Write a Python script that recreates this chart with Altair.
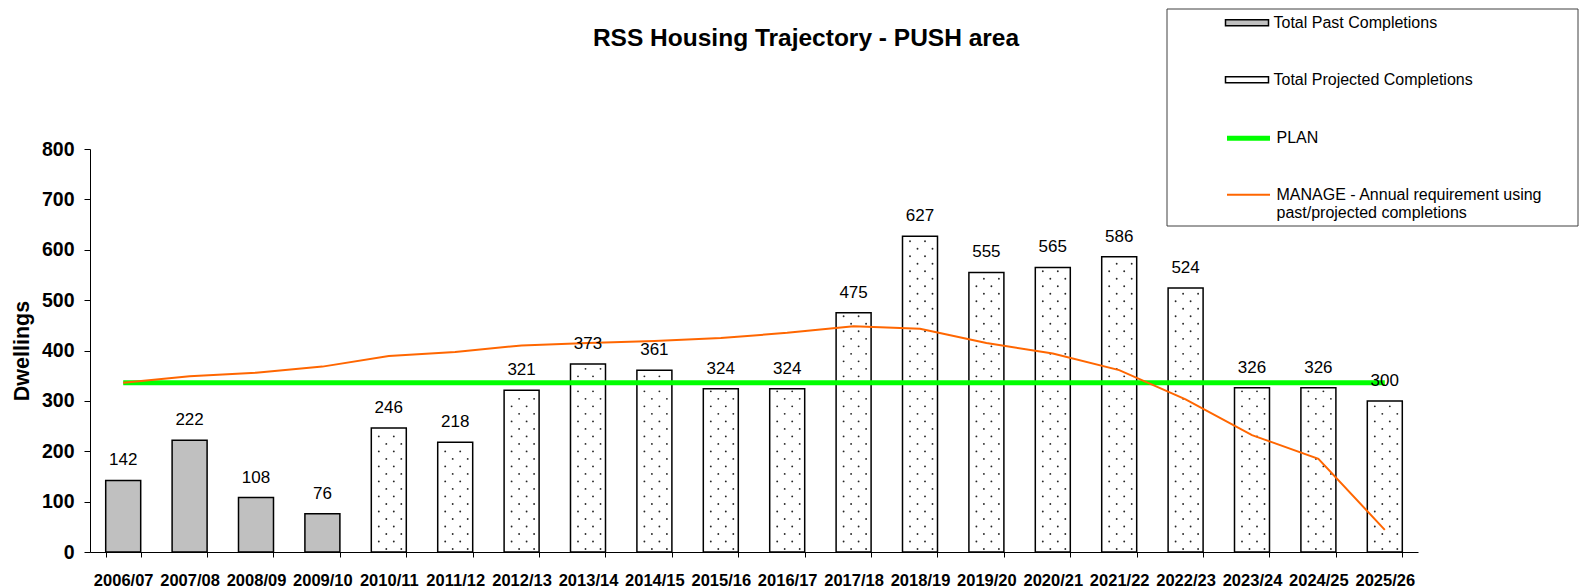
import altair as alt
import pandas as pd

# ---------------- data ----------------
years = ["2006/07", "2007/08", "2008/09", "2009/10", "2010/11", "2011/12", "2012/13",
         "2013/14", "2014/15", "2015/16", "2016/17", "2017/18", "2018/19", "2019/20",
         "2020/21", "2021/22", "2022/23", "2023/24", "2024/25", "2025/26"]
completions = [142, 222, 108, 76, 246, 218, 321, 373, 361, 324, 324, 475, 627, 555,
               565, 586, 524, 326, 326, 300]
n_past = 4
plan = [336, 336, 336, 336, 336, 336, 336, 336, 336, 336, 336, 336, 336, 336,
        336, 336, 336, 336, 336, 336]
manage = [336, 349, 356, 368, 389, 397, 410, 415, 419, 425, 435, 448, 443, 415,
          394, 361, 303, 232, 185, 44]

bar_series = ["Total Past Completions", "Total Projected Completions"]
line_series = ["PLAN", "MANAGE - Annual requirement using past/projected completions"]
chart_title = "RSS Housing Trajectory - PUSH area"

FONT = "Liberation Sans"

bars = pd.DataFrame({
    "year": years,
    "value": completions,
    "series": [bar_series[0] if i < n_past else bar_series[1] for i in range(len(years))],
})
lines = pd.DataFrame({
    "year": years + years,
    "value": plan + manage,
    "line": [line_series[0]] * len(years) + [line_series[1]] * len(years),
})

# dotted fill pattern for projected bars (rows of dots inside each bar)
DOT_STEP = 14.9
dot_rows = []
for yr, v, s in zip(bars["year"], bars["value"], bars["series"]):
    if s != bar_series[1]:
        continue
    k = 0
    while 6 + k * DOT_STEP < v - 4:
        cols = [1, 3] if k % 2 == 0 else [0, 2]
        for c in cols:
            dot_rows.append({"year": yr, "dv": 6 + k * DOT_STEP, "col": c})
        k += 1
dots = pd.DataFrame(dot_rows)
col_offsets = [-10, -2.5, 5, 12.5]

# ---------------- chart ----------------
xscale = alt.Scale(domain=years, paddingInner=0.473, paddingOuter=0.2365)
yscale = alt.Scale(domain=[0, 800], nice=False)

x_enc = alt.X("year:N", scale=xscale, sort=years,
              axis=alt.Axis(title=None, labelAngle=0, tickBand="extent",
                            labelFont=FONT, labelFontSize=16.5, labelFontWeight="bold",
                            labelColor="black", tickColor="black", tickSize=5,
                            domainColor="black", labelPadding=15))
y_enc = alt.Y("value:Q", scale=yscale,
              axis=alt.Axis(title="Dwellings", values=list(range(0, 801, 100)),
                            grid=False, labelFont=FONT, labelFontSize=19.5,
                            labelFontWeight="bold", labelColor="black",
                            tickColor="black", tickSize=6, domainColor="black",
                            labelPadding=10, titleFont=FONT, titleFontSize=21.5,
                            titleFontWeight="bold", titleColor="black",
                            titlePadding=8))

bar_layer = alt.Chart(bars).mark_bar(stroke="black", strokeWidth=1.5).encode(
    x=x_enc,
    y=y_enc,
    fill=alt.Fill("series:N", scale=alt.Scale(domain=bar_series, range=["#C0C0C0", "#FFFFFF"]),
                  legend=alt.Legend(title=None, orient="none", legendX=1134.5, legendY=-148.8,
                                    symbolType="M-1,-0.14H1V0.14H-1Z", symbolSize=1849,
                                    symbolStrokeColor="black", symbolStrokeWidth=1.5,
                                    labelFont=FONT, labelFontSize=16, labelColor="black",
                                    rowPadding=26, padding=0, labelOffset=4, labelLimit=400)),
)

dot_layers = []
for c, off in enumerate(col_offsets):
    dot_layers.append(
        alt.Chart(dots).transform_filter(alt.datum.col == c)
        .mark_circle(size=3.5, color="black", opacity=0.85, xOffset=off)
        .encode(x=alt.X("year:N", scale=xscale, sort=years), y=alt.Y("dv:Q", scale=yscale))
    )

line_legend = alt.Legend(title=None, orient="none", legendX=1134.5, legendY=-34.8,
                         symbolType="stroke", symbolSize=1849,
                         labelFont=FONT, labelFontSize=16, labelColor="black",
                         rowPadding=24, padding=0, labelOffset=4, labelLimit=400,
                         labelExpr="datum.label == 'PLAN' ? 'PLAN' : ['MANAGE - Annual requirement using', 'past/projected completions']")

line_layer = alt.Chart(lines).mark_line().encode(
    x=alt.X("year:N", scale=xscale, sort=years),
    y=alt.Y("value:Q", scale=yscale),
    stroke=alt.Stroke("line:N", scale=alt.Scale(domain=line_series, range=["#00FF00", "#FF6600"]),
                      legend=line_legend),
    strokeWidth=alt.StrokeWidth("line:N", scale=alt.Scale(domain=line_series, range=[5, 2]),
                                legend=line_legend),
)

text_layer = alt.Chart(bars).mark_text(font=FONT, fontSize=17, color="black",
                                       baseline="alphabetic", dy=-15).encode(
    x=alt.X("year:N", scale=xscale, sort=years),
    y=alt.Y("value:Q", scale=yscale),
    text=alt.Text("value:Q"),
)

legend_box = alt.Chart(alt.Data(values=[{"a": 1}])).mark_rect(
    fill="white", fillOpacity=0, stroke="#404040", strokeWidth=1
).encode(
    x=alt.value(1077), x2=alt.value(1488), y=alt.value(-140), y2=alt.value(77)
)

title_layer = alt.Chart(alt.Data(values=[{"t": chart_title}])).mark_text(
    font=FONT, fontSize=24.5, fontWeight="bold", color="black", align="center", baseline="middle"
).encode(
    x=alt.value(716), y=alt.value(-110), text="t:N"
)

chart = alt.layer(bar_layer, *dot_layers, line_layer, text_layer, legend_box, title_layer).properties(
    width=1328,
    height=403,
    autosize=alt.AutoSizeParams(type="none"),
    padding={"left": 82, "top": 141, "right": 161, "bottom": 40},
).configure(background="white").configure_view(strokeWidth=0)

chart.save("out.html", embed_options={"renderer": "svg", "actions": False})
